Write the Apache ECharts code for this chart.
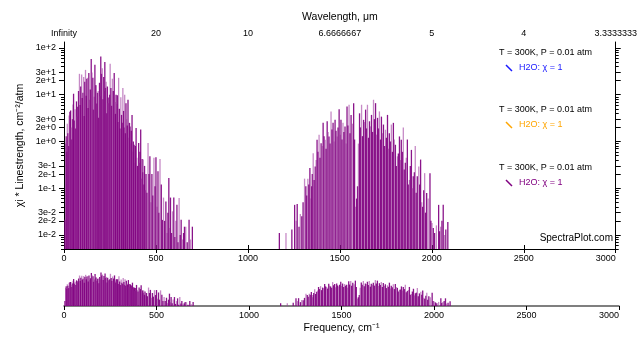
<!DOCTYPE html>
<html><head><meta charset="utf-8">
<script src="https://cdn.jsdelivr.net/npm/echarts@6/dist/echarts.min.js"></script>
<style>html,body{margin:0;padding:0;background:#fff}#c{width:640px;height:356px}</style>
</head><body><div id="c"></div>
<script>
// ---- data: [frequency cm^-1, xi * linestrength cm^-2/atm] ----
const band1Lines = [[5,0.021],[9,0.9],[12,1.3],[15,0.6],[18,2.4],[21,1.5],[25,0.8],[28,3.6],[32,4.3],[36,4.6],[39,2.0],[43,1.1],[46,3.0],[49,6.2],[52,10.5],[56,2.8],[60,4.9],[64,1.9],[68,7.2],[71,3.4],[75,5.5],[79,12],[84,28],[88,6.0],[91,15],[96,27],[99,8.5],[103,11],[107,24],[110,3.5],[113,19],[117,34],[121,9.5],[124,22],[128,23],[131,5.2],[135,29],[139,7.8],[143,13],[148,58],[152,30],[157,23],[160,4.8],[164,9.0],[168,44],[172,16],[175,16],[179,6.5],[182,11],[186,12],[189,3.2],[193,18],[196,9.3],[200,66],[204,28],[208,37],[212,8.0],[216,24],[219,12],[222,50],[226,14],[229,19],[233,4.0],[236,15],[240,6.6],[244,8.7],[248,10],[251,46],[255,14],[259,5.8],[263,22],[268,12],[273,29],[277,7.0],[280,3.9],[283,10],[287,6.3],[290,9.8],[294,2.6],[297,23],[301,5.0],[305,1.9],[309,8.8],[313,3.7],[317,2.5],[320,14],[324,4.5],[327,2.0],[330,10],[334,1.5],[337,6.6],[340,3.0],[344,2.2],[348,7.8],[352,1.2],[356,2.5],[359,2.1],[363,0.9],[366,1.7],[370,3.7],[374,0.6],[377,1.0],[381,0.85],[385,0.35],[388,0.8],[392,1.95],[396,0.45],[400,0.3],[406,0.93],[410,0.35],[413,0.6],[417,1.8],[421,0.16],[425,0.42],[428,0.22],[431,0.41],[435,0.12],[438,0.3],[442,0.09],[446,0.2],[451,0.08],[457,0.93],[462,0.2],[467,0.48],[472,0.05],[478,0.2],[483,0.07],[489,0.45],[495,0.11],[500,0.46],[505,0.04],[511,0.23],[516,0.03],[522,0.42],[529,0.12],[535,0.021],[541,0.063],[547,0.02],[554,0.052],[560,0.011],[565,0.03],[570,0.165],[575,0.014],[579,0.063],[585,0.011],[590,0.032],[597,0.063],[603,0.009],[608,0.02],[614,0.044],[620,0.007],[626,0.062],[632,0.01],[637,0.021],[643,0.008],[650,0.011],[655,0.015],[662,0.015],[670,0.007],[680,0.021],[688,0.008],[698,0.015]];

const band2Lines = [[1171,0.011],[1207,0.011],[1239,0.013],[1254,0.044],[1262,0.02],[1268,0.046],[1278,0.015],[1285,0.028],[1293,0.025],[1300,0.05],[1308,0.16],[1315,0.11],[1320,0.07],[1326,0.16],[1331,0.12],[1337,0.27],[1342,0.06],[1347,0.11],[1350,0.2],[1355,0.56],[1360,0.15],[1366,0.29],[1371,0.4],[1376,1.09],[1381,0.6],[1387,1.4],[1392,0.45],[1398,0.92],[1403,0.8],[1409,2.5],[1414,1.3],[1420,1.09],[1425,0.7],[1431,2.7],[1436,1.6],[1441,1.28],[1447,0.9],[1452,4.4],[1457,1.8],[1463,2.5],[1468,1.0],[1474,2.9],[1479,1.7],[1485,1.28],[1490,2.0],[1496,4.9],[1501,1.4],[1506,2.9],[1512,1.1],[1517,2.5],[1522,1.6],[1528,2.1],[1533,0.9],[1539,5.6],[1544,2.2],[1550,6.1],[1555,1.5],[1561,3.7],[1568,2.4],[1575,6.6],[1580,1.1],[1586,0.04],[1591,0.06],[1596,0.11],[1601,0.9],[1607,4.0],[1612,2.0],[1618,6.1],[1623,1.3],[1629,2.9],[1634,2.6],[1640,4.8],[1645,1.9],[1650,6.1],[1656,1.2],[1661,2.7],[1667,2.1],[1672,3.7],[1678,1.6],[1683,7.8],[1688,3.0],[1694,6.6],[1699,1.4],[1705,3.2],[1710,1.9],[1715,4.4],[1721,1.1],[1726,3.4],[1732,1.5],[1737,2.3],[1743,0.8],[1748,1.78],[1753,1.2],[1759,3.7],[1764,0.7],[1769,1.5],[1775,1.0],[1780,2.3],[1786,0.6],[1791,2.5],[1796,1.1],[1802,0.85],[1807,0.3],[1813,0.48],[1818,0.55],[1824,1.28],[1829,0.4],[1834,1.09],[1840,0.6],[1845,2.0],[1850,0.25],[1856,0.35],[1861,0.45],[1867,1.1],[1872,0.12],[1878,0.15],[1883,0.3],[1889,0.66],[1894,0.1],[1899,0.18],[1905,0.22],[1910,0.8],[1915,0.08],[1921,0.18],[1929,0.29],[1934,0.12],[1939,0.41],[1945,0.05],[1950,0.04],[1956,0.09],[1961,0.21],[1966,0.03],[1972,0.079],[1980,0.06],[1990,0.21],[1995,0.02],[2001,0.018],[2008,0.014],[2015,0.011],[2025,0.016],[2037,0.044],[2042,0.012],[2048,0.015],[2055,0.02],[2062,0.044],[2068,0.01],[2076,0.013],[2087,0.019]];

const freqTicks = [0, 500, 1000, 1500, 2000, 2500, 3000];
const wavelengthLabels = ['Infinity', '20', '10', '6.6666667', '5', '4', '3.3333333'];
const yTickValues = [0.01, 0.02, 0.03, 0.1, 0.2, 0.3, 1, 2, 3, 10, 20, 30, 100];
const yTickLabels = ['1e-2','2e-2','3e-2','1e-1','2e-1','3e-1','1e+0','2e+0','3e+0','1e+1','2e+1','3e+1','1e+2'];
const yTitle = 'χi * Linestrength, cm⁻²/atm';
const legendBlocks = [
  { cond: 'T = 300K, P = 0.01 atm', label: 'H2O: χ = 1', color: '#1a1aff' },
  { cond: 'T = 300K, P = 0.01 atm', label: 'H2O: χ = 1', color: '#ffa500' },
  { cond: 'T = 300K, P = 0.01 atm', label: 'H2O: χ = 1', color: '#800080' }
];

// ---- log transform onto a linear value axis ----
const Y_MIN = 0.005, LOG_MAX = 2.128;
const LOG_MIN = Math.log10(Y_MIN);
const H_MAX = LOG_MAX - LOG_MIN;
const toH = v => Math.log10(v) - LOG_MIN;

const majorH = yTickValues.map(toH);
const labelByH = {};
yTickValues.forEach((v, i) => { labelByH[toH(v).toFixed(4)] = yTickLabels[i]; });
const minorH = [];
for (let n = -3; n <= 1; n++) for (let k = 4; k <= 9; k++) {
  const v = k * Math.pow(10, n);
  if (v >= Y_MIN - 1e-12 && v <= 100) minorH.push(toH(v));
}

const FONT = 'Liberation Sans, Arial, sans-serif';
const lbl = { fontSize: 9, color: '#000', fontFamily: FONT };
const titleStyle = { fontSize: 10.5, color: '#000', fontFamily: FONT };
const blackLine = { show: true, lineStyle: { color: '#000', width: 1 } };

const toBar = arr => arr.map(d => [d[0], toH(d[1])]);
const purple = p => (p.dataIndex % 3 === 1 ? 'rgba(160,60,160,0.6)' : 'rgba(128,0,128,0.92)');

function yAx(grid, pos, ticks, len, withLine, withLabel, extra) {
  return Object.assign({
    type: 'value', gridIndex: grid, position: pos, min: 0, max: H_MAX,
    axisLine: withLine ? blackLine : { show: false },
    axisTick: { show: true, customValues: ticks, length: len, lineStyle: { color: '#000' } },
    axisLabel: withLabel ? Object.assign({ customValues: majorH, margin: 8,
      formatter: v => labelByH[v.toFixed(4)] || '' }, lbl) : { show: false },
    splitLine: { show: false }
  }, extra || {});
}

const chart = echarts.init(document.getElementById('c'), null, { renderer: 'canvas' });
const gLeft = 64, gRight = 21, gTop = 42, gHeight = 207;
const legendGraphics = [];
const blockY = [53, 110, 168];
legendBlocks.forEach((b, i) => {
  const y0 = blockY[i];
  legendGraphics.push({ type: 'text', left: 499, top: y0 - 5,
    style: { text: b.cond, fill: '#000', font: '9px ' + FONT } });
  legendGraphics.push({ type: 'line', shape: { x1: 506, y1: y0 + 12, x2: 512, y2: y0 + 18 },
    style: { stroke: b.color, lineWidth: 1.5 } });
  legendGraphics.push({ type: 'text', left: 519, top: y0 + 10,
    style: { text: b.label, fill: b.color, font: '9px ' + FONT } });
});
legendGraphics.push({ type: 'text', right: 27, top: 233,
  style: { text: 'SpectraPlot.com', fill: '#000', font: '10px ' + FONT } });
// rotated y-axis title, centred on the main plot
legendGraphics.push({ type: 'text', x: 20, y: gTop + gHeight / 2, rotation: Math.PI / 2,
  style: { text: yTitle, fill: '#000', font: '10.5px ' + FONT, align: 'center', verticalAlign: 'middle' } });

const freqLabel = v => String(v);

chart.setOption({
  animation: false,
  backgroundColor: '#fff',
  grid: [
    { left: gLeft, right: gRight, top: gTop, height: gHeight },
    { left: gLeft, right: gRight, top: 270, height: 36 }
  ],
  xAxis: [
    { type: 'value', gridIndex: 0, position: 'bottom', min: 0, max: 3000, interval: 500,
      axisLine: blackLine, axisTick: { show: true, length: 4, lineStyle: { color: '#000' } },
      axisLabel: Object.assign({ margin: 5, alignMaxLabel: 'right', formatter: freqLabel }, lbl),
      splitLine: { show: false } },
    { type: 'value', gridIndex: 0, position: 'top', min: 0, max: 3000, interval: 500,
      axisLine: blackLine, axisTick: { show: true, length: 4, lineStyle: { color: '#000' } },
      axisLabel: Object.assign({ margin: 4,
        formatter: v => wavelengthLabels[freqTicks.indexOf(v)] }, lbl),
      splitLine: { show: false },
      name: 'Wavelength, μm', nameLocation: 'middle', nameGap: 19, nameMoveOverlap: false,
      nameTextStyle: titleStyle },
    { type: 'value', gridIndex: 1, position: 'bottom', min: 0, max: 3000, interval: 500,
      axisLine: { show: true, lineStyle: { color: '#555', width: 1.5 } },
      axisTick: { show: true, length: 4, lineStyle: { color: '#000' } },
      axisLabel: Object.assign({ margin: 5, alignMaxLabel: 'right', formatter: freqLabel }, lbl),
      splitLine: { show: false },
      name: 'Frequency, cm⁻¹', nameLocation: 'middle', nameGap: 17, nameMoveOverlap: false,
      nameTextStyle: titleStyle }
  ],
  yAxis: [
    yAx(0, 'left', majorH, 5, true, true),
    yAx(0, 'left', minorH, 3, false, false),
    yAx(0, 'right', majorH, 5, true, false),
    yAx(0, 'right', minorH, 3, false, false),
    { type: 'value', gridIndex: 1, min: 0, max: H_MAX, show: false }
  ],
  series: [
    { type: 'bar', xAxisIndex: 0, yAxisIndex: 0, data: toBar(band1Lines), barWidth: 1.3, barGap: '-100%',
      itemStyle: { color: purple } },
    { type: 'bar', xAxisIndex: 0, yAxisIndex: 0, data: toBar(band2Lines), barWidth: 1.3, barGap: '-100%',
      itemStyle: { color: purple } },
    { type: 'bar', xAxisIndex: 2, yAxisIndex: 4, data: toBar(band1Lines), barWidth: 1.3, barGap: '-100%',
      itemStyle: { color: purple } },
    { type: 'bar', xAxisIndex: 2, yAxisIndex: 4, data: toBar(band2Lines), barWidth: 1.3, barGap: '-100%',
      itemStyle: { color: purple } }
  ],
  graphic: legendGraphics
});
</script></body></html>
